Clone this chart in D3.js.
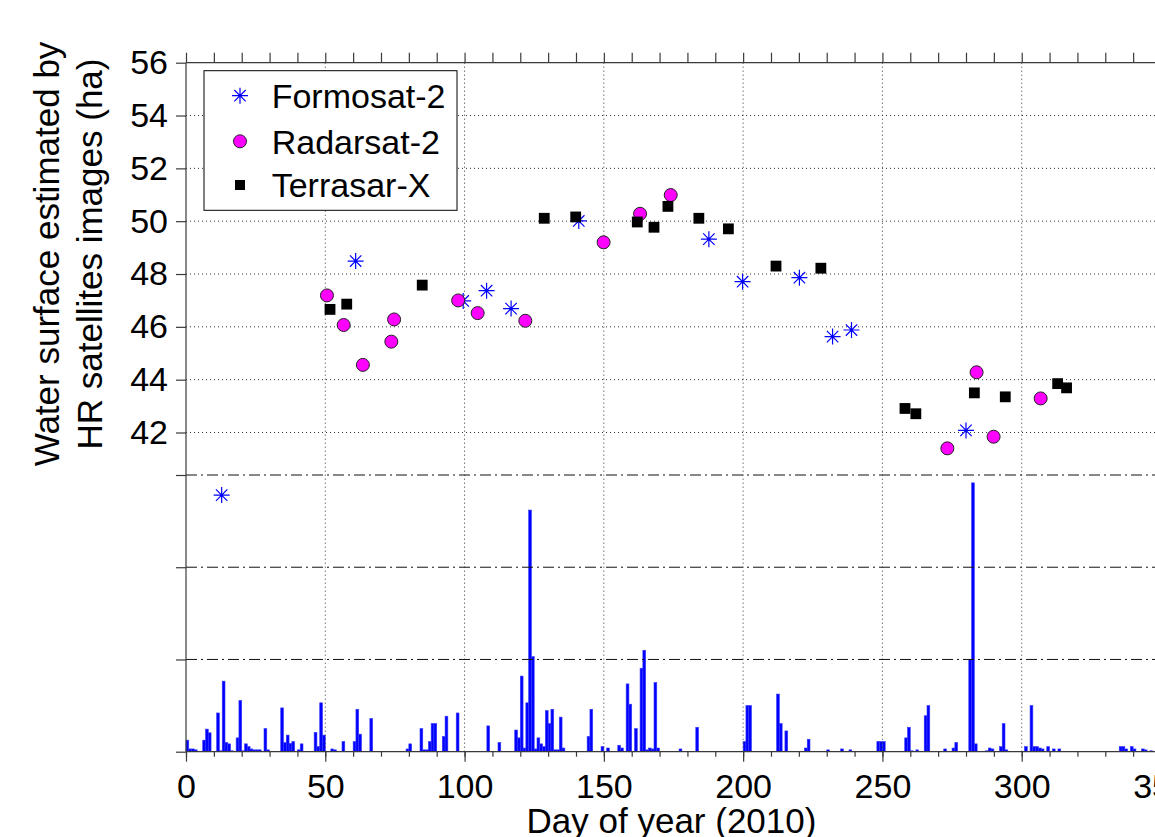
<!DOCTYPE html>
<html>
<head>
<meta charset="utf-8">
<script src="https://cdn.jsdelivr.net/npm/d3@7"></script>
<style>
  body { margin: 0; background: #fff; }
  svg { display: block; font-family: "Liberation Sans", Arial, sans-serif; }
</style>
</head>
<body>
<svg id="chart" width="1155" height="837"></svg>
<script>
// ************************************
// Data
// ************************************

// water surface estimates (ha) per satellite, x = day of year
const formosatDay = [12.8, 60.9, 99.5, 107.9, 116.7, 141.0, 187.7, 199.8, 220.2, 232.1, 238.9, 280.0];
const formosatHa  = [39.63, 48.49, 46.98, 47.37, 46.69, 50.01, 49.32, 47.71, 47.86, 45.63, 45.88, 42.08];

const radarsatDay = [50.6, 56.6, 63.5, 73.7, 74.7, 97.7, 104.7, 121.8, 149.9, 163.0, 174.0, 273.3, 283.8, 289.9, 306.8];
const radarsatHa  = [47.19, 46.07, 44.56, 45.44, 46.28, 47.00, 46.52, 46.23, 49.20, 50.28, 50.99, 41.40, 44.28, 41.84, 43.29];

const terrasarDay = [51.7, 57.7, 84.8, 128.6, 139.9, 162.0, 168.0, 173.0, 184.1, 194.7, 211.8, 227.9, 258.1, 262.0, 283.0, 294.1, 312.9, 316.1];
const terrasarHa  = [46.66, 46.86, 47.58, 50.11, 50.16, 49.97, 49.77, 50.56, 50.11, 49.71, 48.30, 48.22, 42.91, 42.71, 43.50, 43.35, 43.85, 43.69];

// daily rainfall bars (no axis labels in the figure)
const rainDay = [
  1, 2, 3, 4, 7, 8, 9, 12, 13, 14, 15, 16, 17,
  19, 20, 21, 22, 23, 24, 25, 26, 27, 29, 30,
  35, 36, 37, 38, 39, 41, 42, 47, 48, 49, 50, 53, 54, 57,
  61, 62, 63, 67, 80, 81, 85, 86, 87, 88, 89, 90, 93, 94, 98, 109, 113,
  119, 120, 121, 122, 123, 124, 125, 126, 127, 128, 129, 130, 131, 132, 133, 134, 135, 136,
  145, 146, 150, 152, 156, 157, 159, 160, 162, 164, 165, 166, 167, 168, 169, 170, 178, 184,
  201, 202, 203, 213, 214, 216, 223, 224, 231, 236, 239, 249, 250, 251,
  259, 260, 261, 263, 266, 267, 273, 276, 277, 282, 283, 284, 288, 289, 290, 293, 294, 295,
  302, 304, 305, 306, 307, 308, 310, 312, 314, 336, 337, 338, 340, 341, 344, 345, 347
];
const rainMm = [
  2.5, 0.6, 0.6, 0.4, 2.5, 4.9, 4.1, 8.4, 0.2, 15.3, 2.0, 1.7, 0.2,
  3.0, 11.1, 0.2, 1.7, 1.1, 0.6, 0.4, 0.4, 0.4, 5.0, 0.4,
  9.5, 2.0, 3.6, 1.8, 2.2, 0.4, 1.7, 4.2, 1.1, 10.6, 3.6, 0.6, 0.4, 2.2,
  2.2, 9.2, 3.8, 7.2, 0.6, 1.7, 5.0, 0.4, 0.4, 2.2, 6.1, 6.1, 3.3, 7.7, 8.4, 5.6, 2.0,
  4.7, 3.0, 16.4, 0.8, 10.6, 52.4, 20.6, 0.6, 3.0, 1.7, 1.1, 8.9, 6.1, 9.2, 0.4, 0.4, 7.5, 0.8,
  3.3, 9.2, 1.1, 0.8, 1.4, 0.8, 14.7, 10.3, 5.0, 18.1, 22.0, 0.4, 0.8, 0.6, 15.0, 0.8, 0.6, 5.3,
  2.2, 10.0, 10.0, 12.5, 6.1, 4.5, 0.8, 2.7, 0.4, 0.6, 0.4, 2.2, 2.2, 2.2,
  3.0, 5.3, 0.2, 0.4, 7.8, 10.0, 0.6, 0.8, 2.0, 20.0, 58.3, 1.7, 0.2, 0.8, 0.6, 1.1, 6.1, 0.4,
  1.1, 10.0, 1.1, 1.1, 0.8, 0.6, 1.1, 0.6, 0.6, 1.1, 1.1, 0.6, 1.1, 0.6, 0.6, 0.4, 0.2
];

// tick labels
const xTicks = [0, 50, 100, 150, 200, 250, 300, 350];
const xMinorTicks = d3.range(0, 361, 10);
const yTicks = [42, 44, 46, 48, 50, 52, 54, 56];
const rainTicks = [0, 20, 40, 60];

// ************************************
// Scales
// ************************************

const svg = d3.select("#chart");
const plotTop = 62.7, plotBottom = 751.7, plotLeft = 186;

const x = d3.scaleLinear().domain([0, 350]).range([plotLeft, 1161]);
const y = d3.scaleLinear().domain([42, 56]).range([432.5, plotTop]);
const rain = d3.scaleLinear().domain([0, 60]).range([plotBottom, 475]);
const plotRight = x(365);

const axisColor = "#3a3a3a";

// ************************************
// Rain bars
// ************************************

const rainData = rainDay.map((d, i) => ({day: d, mm: rainMm[i]}));
svg.append("g")
  .selectAll("rect")
  .data(rainData)
  .enter().append("rect")
    .attr("x", d => x(d.day - 1))
    .attr("width", d => x(d.day) - x(d.day - 1))
    .attr("y", d => rain(d.mm))
    .attr("height", d => rain(0) - rain(d.mm))
    .attr("fill", "#0000ff")
    .attr("stroke", "#3a3aff")
    .attr("stroke-width", 0.6);

// ************************************
// Grid
// ************************************

const grid = svg.append("g")
  .attr("fill", "none")
  .attr("stroke", "#333")
  .attr("stroke-width", 1);

grid.selectAll(".vgrid")
  .data(xTicks.filter(t => t > 0))
  .enter().append("line")
    .attr("x1", d => x(d)).attr("x2", d => x(d))
    .attr("y1", plotTop).attr("y2", plotBottom)
    .attr("stroke-dasharray", "1,3");

grid.selectAll(".hgrid")
  .data(yTicks.filter(t => t < 56))
  .enter().append("line")
    .attr("x1", plotLeft).attr("x2", plotRight)
    .attr("y1", d => y(d)).attr("y2", d => y(d))
    .attr("stroke-dasharray", "1,3");

grid.selectAll(".rgrid")
  .data(rainTicks.filter(t => t > 0))
  .enter().append("line")
    .attr("x1", plotLeft).attr("x2", plotRight)
    .attr("y1", d => rain(d)).attr("y2", d => rain(d))
    .attr("stroke", "#111")
    .attr("stroke-dasharray", "11,4,2,4");

// ************************************
// Axes
// ************************************

function styleAxis(g) {
  g.select(".domain").remove();
  g.selectAll(".tick line").attr("stroke", axisColor).attr("stroke-width", 1.2);
  g.selectAll(".tick text")
    .attr("fill", "#000")
    .style("font-size", "34px")
    .style("font-family", '"Liberation Sans", Arial, sans-serif');
}

// bottom: minor ticks every 10 days, major labelled ticks every 50
svg.append("g")
  .attr("transform", `translate(0,${plotBottom})`)
  .call(d3.axisBottom(x).tickValues(xMinorTicks).tickSize(5).tickFormat(""))
  .call(styleAxis);
svg.append("g")
  .attr("transform", `translate(0,${plotBottom})`)
  .call(d3.axisBottom(x).tickValues(xTicks).tickSize(10).tickPadding(12).tickFormat(d3.format("d")))
  .call(styleAxis);

// top: unlabelled ticks
svg.append("g")
  .attr("transform", `translate(0,${plotTop})`)
  .call(d3.axisTop(x).tickValues(xMinorTicks).tickSize(10).tickFormat(""))
  .call(styleAxis);

// left: surface values + unlabelled rain ticks
svg.append("g")
  .attr("transform", `translate(${plotLeft},0)`)
  .call(d3.axisLeft(y).tickValues(yTicks).tickSize(10).tickPadding(8).tickFormat(d3.format("d")))
  .call(styleAxis);
svg.append("g")
  .attr("transform", `translate(${plotLeft},0)`)
  .call(d3.axisLeft(rain).tickValues(rainTicks).tickSize(10).tickFormat(""))
  .call(styleAxis);

// axis lines
svg.append("line")
  .attr("x1", plotLeft).attr("x2", plotLeft).attr("y1", plotTop).attr("y2", plotBottom)
  .attr("stroke", axisColor).attr("stroke-width", 1.2);
svg.append("line")
  .attr("x1", plotLeft).attr("x2", plotRight).attr("y1", plotBottom).attr("y2", plotBottom)
  .attr("stroke", axisColor).attr("stroke-width", 1.2);
svg.append("line")
  .attr("x1", plotLeft).attr("x2", plotRight).attr("y1", plotTop).attr("y2", plotTop)
  .attr("stroke", axisColor).attr("stroke-width", 1.2);

// axis titles
svg.append("text")
  .attr("x", (x(0) + x(350)) / 2 - 2)
  .attr("y", 833)
  .attr("text-anchor", "middle")
  .style("font-size", "35px")
  .text("Day of year (2010)");

const yTitle = svg.append("text")
  .attr("transform", "translate(0,254) rotate(-90)")
  .attr("text-anchor", "middle")
  .style("font-size", "35px");
yTitle.append("tspan").attr("x", 0).attr("y", 59).text("Water surface estimated by");
yTitle.append("tspan").attr("x", 0).attr("y", 102).text("HR satellites images (ha)");

// ************************************
// Markers
// ************************************

function asterisk(g, cx, cy) {
  const r = 8, d = 5.7;
  g.append("path")
    .attr("d", `M${cx - r},${cy}H${cx + r}M${cx},${cy - r}V${cy + r}` +
               `M${cx - d},${cy - d}L${cx + d},${cy + d}M${cx - d},${cy + d}L${cx + d},${cy - d}`)
    .attr("stroke", "#0000ff")
    .attr("stroke-width", 1.2)
    .attr("fill", "none");
}

const marks = svg.append("g");

formosatDay.forEach((d, i) => asterisk(marks, x(d), y(formosatHa[i])));

marks.selectAll(".radarsat")
  .data(radarsatDay.map((d, i) => ({day: d, ha: radarsatHa[i]})))
  .enter().append("circle")
    .attr("cx", d => x(d.day))
    .attr("cy", d => y(d.ha))
    .attr("r", 6.5)
    .attr("fill", "#ff00ff")
    .attr("stroke", "#222")
    .attr("stroke-width", 1);

marks.selectAll(".terrasar")
  .data(terrasarDay.map((d, i) => ({day: d, ha: terrasarHa[i]})))
  .enter().append("rect")
    .attr("x", d => x(d.day) - 5.4)
    .attr("y", d => y(d.ha) - 5.4)
    .attr("width", 10.8)
    .attr("height", 10.8)
    .attr("fill", "#000");

// ************************************
// Legend
// ************************************

const legend = svg.append("g");
legend.append("rect")
  .attr("x", 204).attr("y", 70.7)
  .attr("width", 253).attr("height", 139.6)
  .attr("fill", "#fff")
  .attr("stroke", "#000")
  .attr("stroke-width", 1);

const legendNames = ["Formosat-2", "Radarsat-2", "Terrasar-X"];
const legendRows = [95.7, 141.3, 185];

asterisk(legend, 240, legendRows[0]);
legend.append("circle")
  .attr("cx", 240).attr("cy", legendRows[1]).attr("r", 6.5)
  .attr("fill", "#ff00ff").attr("stroke", "#222");
legend.append("rect")
  .attr("x", 235).attr("y", legendRows[2] - 5).attr("width", 10).attr("height", 10)
  .attr("fill", "#000");

legend.selectAll(".label")
  .data(legendNames)
  .enter().append("text")
    .attr("x", 271.7)
    .attr("y", (d, i) => legendRows[i])
    .attr("dy", "0.36em")
    .style("font-size", "34px")
    .text(d => d);
</script>
</body>
</html>
